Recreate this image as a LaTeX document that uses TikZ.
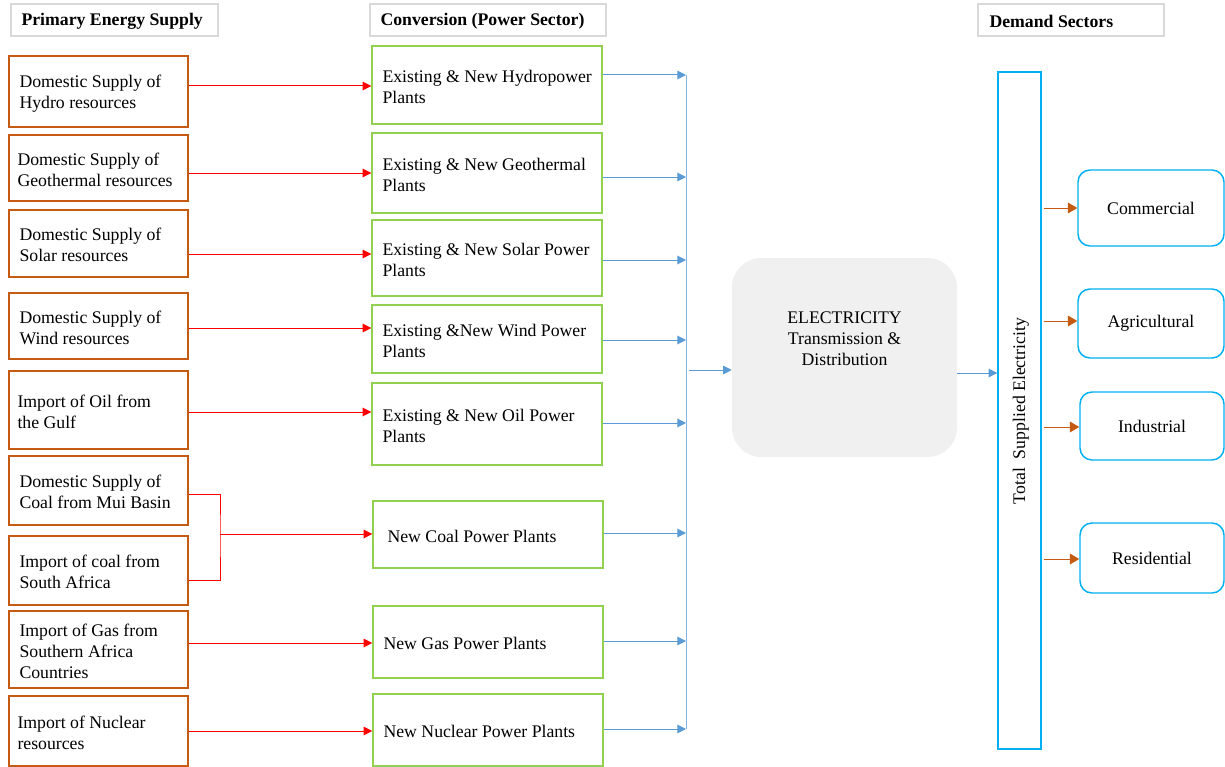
\documentclass[tikz,border=0pt]{standalone}
\usepackage{fontspec}
\setmainfont{Liberation Serif}
\usetikzlibrary{arrows.meta}
\definecolor{orangeB}{HTML}{C55A11}
\definecolor{greenB}{HTML}{92D050}
\definecolor{blueA}{HTML}{5B9BD5}
\definecolor{cyanB}{HTML}{00B0F0}
\definecolor{grayB}{HTML}{D9D9D9}
\definecolor{elecfill}{HTML}{F0F0F0}
\definecolor{redA}{HTML}{FF0000}
\begin{document}
\begin{tikzpicture}[x=0.75pt,y=-0.75pt,
  font=\fontsize{13.3}{15.75}\selectfont,
  hdrbox/.style={draw=grayB,line width=1.1pt,minimum height=24pt,inner sep=0pt},
  hdrtext/.style={anchor=west,inner sep=0pt,yshift=-1.2pt,font=\fontsize{13.3}{15.75}\selectfont\bfseries},
  srcbox/.style={draw=orangeB,line width=1.1pt,minimum width=134.25pt,inner sep=0pt},
  convbox/.style={draw=greenB,line width=1.1pt,minimum width=172.5pt,inner sep=0pt},
  boxtext/.style={anchor=west,inner sep=0pt,align=left,yshift=-1.3pt},
  elecbox/.style={fill=elecfill,rounded corners=22pt,minimum width=168.75pt,minimum height=149.25pt,inner sep=0pt},
  totbox/.style={draw=cyanB,line width=1.1pt,minimum width=32.25pt,minimum height=507.75pt,inner sep=0pt},
  dembox/.style={draw=cyanB,line width=1.1pt,rounded corners=9pt,inner sep=0pt},
  rline/.style={draw=redA,line width=0.75pt},
  rarrow/.style={rline,-{Triangle[length=6.5pt,width=6.5pt]}},
  barrow/.style={draw=blueA,line width=0.75pt,-{Triangle[length=6.5pt,width=6.5pt]}},
  busline/.style={draw=blueA!75,line width=0.75pt},
  oarrow/.style={draw=orangeB,line width=0.75pt,-{Triangle[length=7pt,width=8pt]}}
]
\useasboundingbox (0,0) rectangle (1225,767);

% headers
\node[hdrbox,minimum width=155.25pt] (h1) at (114.5,20) {};
\node[hdrtext] (h1t) at ([xshift=8.25pt]h1.west) {Primary Energy Supply};
\node[hdrbox,minimum width=177pt] (h2) at (488,20) {};
\node[hdrtext] (h2t) at ([xshift=8.25pt]h2.west) {Conversion (Power Sector)};
\node[hdrbox,minimum width=139.5pt] (h3) at (1071,20) {};
\node[hdrtext] (h3t) at ([xshift=9pt]h3.west) {Demand Sectors};

% primary supply boxes
\node[srcbox,minimum height=53.25pt] (s1) at (98.5,91.5) {};
\node[boxtext] at ([xshift=8.25pt]s1.west) {Domestic Supply of\\Hydro resources};
\node[srcbox,minimum height=49.5pt] (s2) at (98.5,168) {};
\node[boxtext] at ([xshift=6.75pt]s2.west) {Domestic Supply of\\Geothermal resources};
\node[srcbox,minimum height=50.25pt] (s3) at (98.5,243.5) {};
\node[boxtext] at ([xshift=8.25pt]s3.west) {Domestic Supply of\\Solar resources};
\node[srcbox,minimum height=49.5pt] (s4) at (98.5,326) {};
\node[boxtext] at ([xshift=8.25pt]s4.west) {Domestic Supply of\\Wind resources};
\node[srcbox,minimum height=58.5pt] (s5) at (98.5,410) {};
\node[boxtext] at ([xshift=6.75pt]s5.west) {Import of Oil from\\the Gulf};
\node[srcbox,minimum height=51.75pt] (s6) at (98.5,490.5) {};
\node[boxtext] at ([xshift=8.25pt]s6.west) {Domestic Supply of\\Coal from Mui Basin};
\node[srcbox,minimum height=51.75pt] (s7) at (98.5,570.5) {};
\node[boxtext] at ([xshift=8.25pt]s7.west) {Import of coal from\\South Africa};
\node[srcbox,minimum height=57.75pt] (s8) at (98.5,649.5) {};
\node[boxtext] at ([xshift=8.25pt]s8.west) {Import of Gas from\\Southern Africa\\Countries};
\node[srcbox,minimum height=52.5pt] (s9) at (98.5,731) {};
\node[boxtext] at ([xshift=6.75pt]s9.west) {Import of Nuclear\\resources};

% conversion boxes
\node[convbox,minimum height=58.5pt] (c1) at (487,85) {};
\node[boxtext] at ([xshift=8.25pt]c1.west) {Existing \& New Hydropower\\Plants};
\node[convbox,minimum height=60pt] (c2) at (487,173) {};
\node[boxtext] at ([xshift=8.25pt]c2.west) {Existing \& New Geothermal\\Plants};
\node[convbox,minimum height=57pt] (c3) at (487,258) {};
\node[boxtext] at ([xshift=8.25pt]c3.west) {Existing \& New Solar Power\\Plants};
\node[convbox,minimum height=51pt] (c4) at (487,339) {};
\node[boxtext] at ([xshift=8.25pt]c4.west) {Existing \&New Wind Power\\Plants};
\node[convbox,minimum height=61.5pt] (c5) at (487,424) {};
\node[boxtext] at ([xshift=8.25pt]c5.west) {Existing \& New Oil Power\\Plants};
\node[convbox,minimum height=50.25pt] (c6) at (488,534.5) {};
\node[boxtext] at ([xshift=11.25pt]c6.west) {New Coal Power Plants};
\node[convbox,minimum height=54pt] (c7) at (488,642) {};
\node[boxtext] at ([xshift=8.25pt]c7.west) {New Gas Power Plants};
\node[convbox,minimum height=54pt] (c8) at (488,730) {};
\node[boxtext] at ([xshift=8.25pt]c8.west) {New Nuclear Power Plants};

% electricity
\node[elecbox] (el) at (844.5,357.5) {};
\node[align=center,inner sep=0pt] (elt) at (844.5,338.5) {ELECTRICITY\\Transmission \&\\Distribution};

% total
\node[totbox] (tot) at (1019.5,410.5) {};
\node[rotate=90,inner sep=0pt] (tott) at (1021,411) {Total\ \ Supplied Electricity};

% demand
\node[dembox,minimum width=109.5pt,minimum height=57pt] (d1) at (1151,208) {Commercial};
\node[dembox,minimum width=109.5pt,minimum height=51.75pt] (d2) at (1151,323.5) {Agricultural};
\node[dembox,minimum width=108pt,minimum height=51pt] (d3) at (1152,426) {Industrial};
\node[dembox,minimum width=108pt,minimum height=52.5pt] (d4) at (1152,558) {Residential};

% red arrows
\draw[rarrow] (s1.east |- 0,86) -- (c1.west |- 0,86);
\draw[rarrow] (s2.east |- 0,173) -- (c2.west |- 0,173);
\draw[rarrow] (s3.east |- 0,254) -- (c3.west |- 0,254);
\draw[rarrow] (s4.east |- 0,328) -- (c4.west |- 0,328);
\draw[rarrow] (s5.east |- 0,412) -- (c5.west |- 0,412);
\coordinate (cj) at (220,534);
\draw[rline] (s6.east |- 0,494) -| (cj) |- (s7.east |- 0,580);
\draw[rarrow] (cj) -- (c6.west |- cj);
\draw[rarrow] (s8.east |- 0,643) -- (c7.west |- 0,643);
\draw[rarrow] (s9.east |- 0,731) -- (c8.west |- 0,731);

% blue bus
\coordinate (busT) at (686,75);
\coordinate (busB) at (686,729);
\draw[busline] (busT) -- (busB);
\draw[barrow] (c1.east |- busT) -- (busT);
\draw[barrow] (c2.east |- 0,177) -- (busT |- 0,177);
\draw[barrow] (c3.east |- 0,260) -- (busT |- 0,260);
\draw[barrow] (c4.east |- 0,340) -- (busT |- 0,340);
\draw[barrow] (c5.east |- 0,423) -- (busT |- 0,423);
\draw[barrow] (c6.east |- 0,533) -- (busT |- 0,533);
\draw[barrow] (c7.east |- 0,641) -- (busT |- 0,641);
\draw[barrow] (c8.east |- busB) -- (busB);
\coordinate (busO) at (689,370);
\draw[barrow] (busO) -- (el.west |- busO);
\draw[barrow] (el.east |- 0,373) -- (tot.west |- 0,373);

% orange arrows
\draw[oarrow] ([xshift=1.5pt]tot.east |- d1.west) -- (d1.west);
\draw[oarrow] ([xshift=1.5pt]tot.east |- 0,321) -- (d2.west |- 0,321);
\draw[oarrow] ([xshift=1.5pt]tot.east |- 0,427) -- (d3.west |- 0,427);
\draw[oarrow] ([xshift=1.5pt]tot.east |- 0,559) -- (d4.west |- 0,559);
\end{tikzpicture}
\end{document}
